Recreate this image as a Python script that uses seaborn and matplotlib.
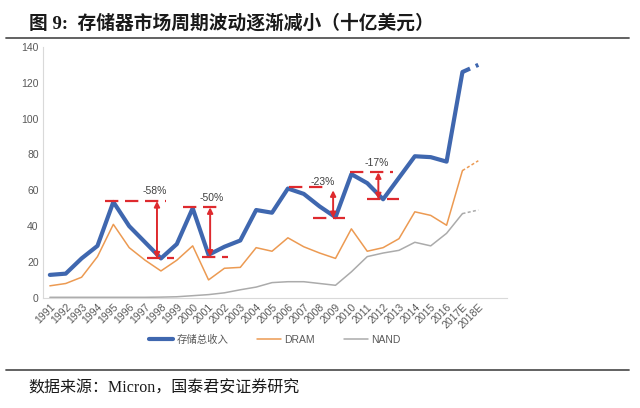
import matplotlib
matplotlib.use('Agg')
import matplotlib.pyplot as plt
import seaborn as sns
import pandas as pd
import numpy as np

# 数据（十亿美元）
years = ['1991', '1992', '1993', '1994', '1995', '1996', '1997', '1998', '1999', '2000',
         '2001', '2002', '2003', '2004', '2005', '2006', '2007', '2008', '2009', '2010',
         '2011', '2012', '2013', '2014', '2015', '2016', '2017E', '2018E']
total = [12.8, 13.5, 22, 29, 53.5, 40, 31, 22, 30, 50,
         24, 28.5, 32, 49, 47.5, 61, 58, 51, 45, 69,
         64, 55, 67, 79, 78.5, 76, 126, 130]
dram = [6.7, 8, 11.5, 23, 41, 28, 21, 15, 21, 29,
        10, 16.5, 17, 28, 26, 33.5, 28.5, 25, 22, 38.5,
        26, 28, 33, 48, 46, 40.5, 71, 76.5]
nand = [0.3, 0.3, 0.3, 0.3, 0.3, 0.3, 0.3, 0.4, 0.6, 1.2,
        1.8, 2.8, 4.5, 6, 8.5, 9, 9, 8, 7, 14.5,
        23, 25, 26.5, 31, 29, 36, 47, 49]
series_names = ['存储总收入', 'DRAM', 'NAND']

# 周期回撤标注：文字、峰值、谷值
drops = ['-58%', '-50%', '-23%', '-17%']
drop_peak = [54, 50.5, 62, 70]
drop_low = [22, 23, 44.5, 55]

sns.set_style('white')
plt.rcParams['font.family'] = ['Liberation Sans', 'Noto Sans CJK SC']
plt.rcParams['axes.unicode_minus'] = False

colors = ['#3F67AF', '#EC9A52', '#ABABAB']
widths = [3.0, 1.1, 1.1]

df = pd.DataFrame({'pos': np.arange(len(years)), 'year': years,
                   series_names[0]: total, series_names[1]: dram, series_names[2]: nand})

fig = plt.figure(figsize=(6.4, 4.08), dpi=100)
ax = fig.add_axes([0.067, 0.270, 0.725, 0.615])

n = len(years)
for name, c, w in zip(series_names, colors, widths):
    solid = df.iloc[:n - 1]
    dashed = df.iloc[n - 2:]
    sns.lineplot(data=solid, x='pos', y=name, ax=ax, color=c, lw=w, label=name,
                 solid_joinstyle='round', solid_capstyle='round')
    sns.lineplot(data=dashed, x='pos', y=name, ax=ax, color=c, lw=w, dashes=False,
                 linestyle=(0, (2, 1.5)), legend=False)

red = '#DE2A2E'
# 标注线的位置（按类别序号）
top_x = [(3.5, 7.3), (8.4, 10.85), (15.1, 17.35), (18.9, 21.6)]
low_x = [(6.1, 7.8), (9.6, 11.2), (16.6, 18.6), (20.0, 22.0)]
arrow_x = [6.75, 10.1, 17.85, 20.7]
text_x = [6.6, 10.2, 17.2, 20.6]
text_y = [59.5, 55.5, 64.5, 75]
arrow_top = [54, 50.5, 60, 70]
for k in range(len(drops)):
    ax.plot(top_x[k], [drop_peak[k]] * 2, color=red, lw=1.6, ls=(0, (6, 3)))
    ax.plot(low_x[k], [drop_low[k]] * 2, color=red, lw=1.6, ls=(0, (6, 3)))
    ax.annotate('', xy=(arrow_x[k], drop_low[k]), xytext=(arrow_x[k], arrow_top[k]),
                arrowprops=dict(arrowstyle='<|-|>', color=red, lw=1.4,
                                mutation_scale=8, shrinkA=0, shrinkB=0))
    ax.text(text_x[k], text_y[k], drops[k], ha='center', va='center',
            fontsize=7.5, color='#404040')

ax.set_xlim(-0.44, 28.8)
ax.set_ylim(0, 140)
ax.set_yticks(range(0, 141, 20))
ax.set_xticks(range(n))
ax.set_xticklabels(years, rotation=45, ha='right', rotation_mode='anchor')
ax.tick_params(axis='both', labelsize=7.5, colors='#595959', length=0, pad=3)
ax.set_xlabel('')
ax.set_ylabel('')
for s in ['top', 'right']:
    ax.spines[s].set_visible(False)
ax.spines['left'].set_color('#D9D9D9')
ax.spines['bottom'].set_color('#D9D9D9')

ax.legend(loc='center', bbox_to_anchor=(0.5, -0.168), ncol=3, frameon=False,
          fontsize=7.5, handlelength=2.3, columnspacing=2.8, handletextpad=0.3,
          labelcolor='#595959')

# 标题和来源
fig.text(0.046, 0.943, '图 9:  存储器市场周期波动逐渐减小（十亿美元）', fontsize=13.5,
         fontweight='bold', va='center', ha='left',
         family=['Liberation Serif', 'Noto Sans CJK SC'], color='#1A1A1A')
fig.add_artist(plt.Line2D([0.009, 0.983], [0.906, 0.906], color='#555555', lw=1.3))
fig.add_artist(plt.Line2D([0.009, 0.983], [0.093, 0.093], color='#555555', lw=1.3))
fig.text(0.045, 0.047, '数据来源：Micron，国泰君安证券研究', fontsize=11.5,
         va='center', ha='left', family=['Liberation Serif', 'Noto Sans CJK SC'],
         color='#1A1A1A')

fig.savefig('out.png', dpi=100)
